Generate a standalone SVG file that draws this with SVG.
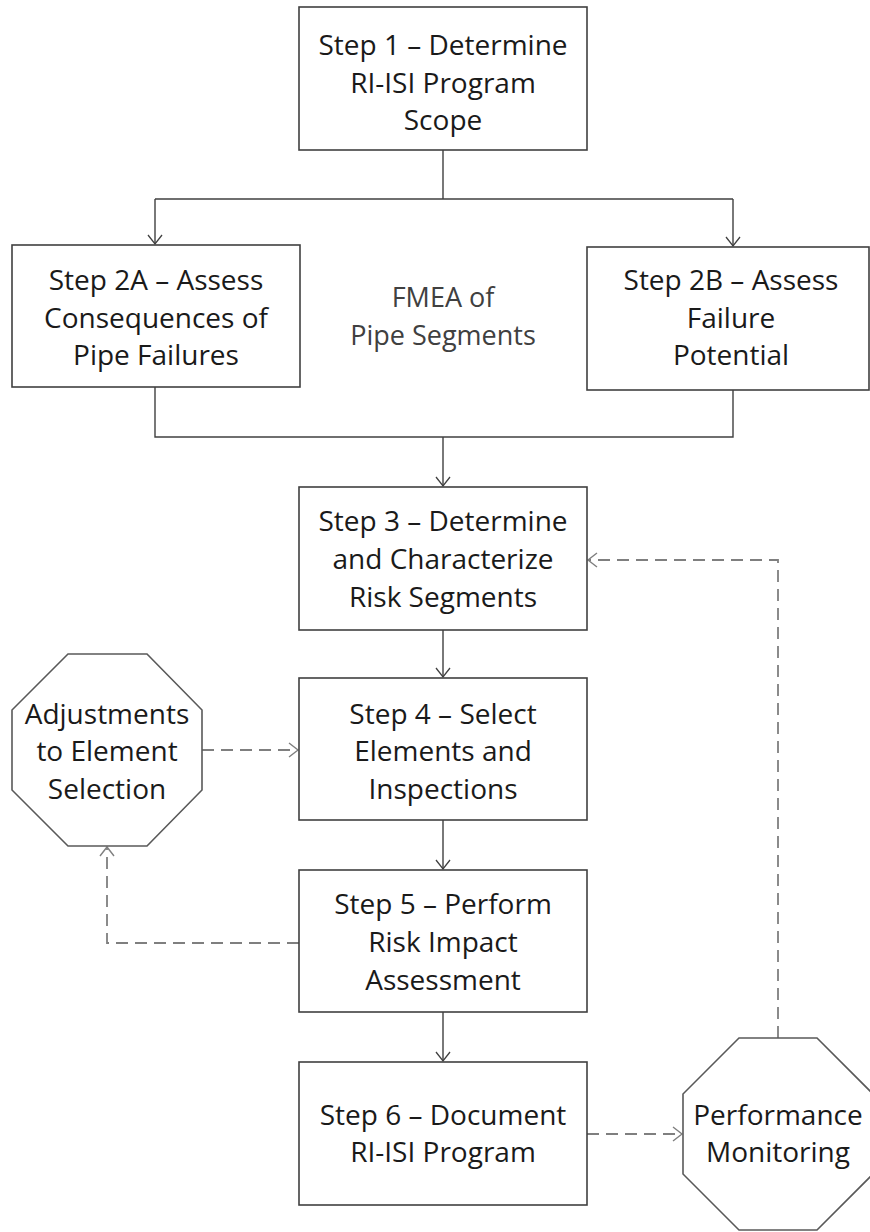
<svg xmlns="http://www.w3.org/2000/svg" width="870" height="1232" viewBox="0 0 870 1232">
<style>
.box{fill:#fff;stroke:#404040;stroke-width:1.6}
.oct{fill:#fff;stroke:#595959;stroke-width:1.6}
.t{font-family:"Open Sans","Liberation Sans",sans-serif;font-size:28px;fill:#1a1a1a;text-anchor:middle}
.f{font-family:"Open Sans","Liberation Sans",sans-serif;font-size:27px;fill:#404040;text-anchor:middle}
.c{fill:none;stroke:#404040;stroke-width:1.4}
.d{fill:none;stroke:#7f7f7f;stroke-width:1.8;stroke-dasharray:12 7}
</style>
<defs>
<marker id="a" markerUnits="userSpaceOnUse" markerWidth="16" markerHeight="16" refX="12" refY="8" orient="auto"><path d="M3,1 L12,8 L3,15" fill="none" stroke="#404040" stroke-width="1.3"/></marker>
<marker id="ad" markerUnits="userSpaceOnUse" markerWidth="16" markerHeight="16" refX="12" refY="8" orient="auto"><path d="M3,1 L12,8 L3,15" fill="none" stroke="#7f7f7f" stroke-width="1.4"/></marker>
</defs>
<g id="connectors">
<path class="c" d="M443,150 V199 M155,199 H733"/>
<path class="c" d="M155,199 V244" marker-end="url(#a)"/>
<path class="c" d="M733,199 V246" marker-end="url(#a)"/>
<path class="c" d="M155,387 V437 H733 V390"/>
<path class="c" d="M443,437 V486" marker-end="url(#a)"/>
<path class="c" d="M443,630 V677" marker-end="url(#a)"/>
<path class="c" d="M443,820 V869" marker-end="url(#a)"/>
<path class="c" d="M443,1012 V1061" marker-end="url(#a)"/>
<path class="d" d="M202,750 H298" marker-end="url(#ad)"/>
<path class="d" d="M299,943 H107 V847" marker-end="url(#ad)"/>
<path class="d" d="M587,1134 H682" marker-end="url(#ad)"/>
<path class="d" d="M778,1038 V560 H588" marker-end="url(#ad)"/>
</g>
<g id="step1"><rect class="box" x="299" y="7" width="288" height="143"/>
<text class="t" x="443" y="55">Step 1 – Determine</text><text class="t" x="443" y="93">RI-ISI Program</text><text class="t" x="443" y="130">Scope</text></g>
<g id="step2a"><rect class="box" x="12" y="245" width="288" height="142"/>
<text class="t" x="156" y="290">Step 2A – Assess</text><text class="t" x="156" y="328">Consequences of</text><text class="t" x="156" y="365">Pipe Failures</text></g>
<g id="fmea"><text class="f" x="443" y="307">FMEA of</text><text class="f" x="443" y="345">Pipe Segments</text></g>
<g id="step2b"><rect class="box" x="587" y="247" width="282" height="143"/>
<text class="t" x="731" y="290">Step 2B – Assess</text><text class="t" x="731" y="328">Failure</text><text class="t" x="731" y="365">Potential</text></g>
<g id="step3"><rect class="box" x="299" y="487" width="288" height="143"/>
<text class="t" x="443" y="531">Step 3 – Determine</text><text class="t" x="443" y="569">and Characterize</text><text class="t" x="443" y="607">Risk Segments</text></g>
<g id="step4"><rect class="box" x="299" y="678" width="288" height="142"/>
<text class="t" x="443" y="724">Step 4 – Select</text><text class="t" x="443" y="761">Elements and</text><text class="t" x="443" y="799">Inspections</text></g>
<g id="step5"><rect class="box" x="299" y="870" width="288" height="142"/>
<text class="t" x="443" y="914">Step 5 – Perform</text><text class="t" x="443" y="952">Risk Impact</text><text class="t" x="443" y="990">Assessment</text></g>
<g id="step6"><rect class="box" x="299" y="1062" width="288" height="143"/>
<text class="t" x="443" y="1125">Step 6 – Document</text><text class="t" x="443" y="1162">RI-ISI Program</text></g>
<g id="adjust"><polygon class="oct" points="68,654 147,654 202,710 202,790 147,846 68,846 12,790 12,710"/>
<text class="t" x="107" y="724">Adjustments</text><text class="t" x="107" y="761">to Element</text><text class="t" x="107" y="799">Selection</text></g>
<g id="perf"><polygon class="oct" points="739,1038 817,1038 873,1094 873,1174 817,1230 739,1230 683,1174 683,1094"/>
<text class="t" x="778" y="1125">Performance</text><text class="t" x="778" y="1162">Monitoring</text></g>
</svg>
